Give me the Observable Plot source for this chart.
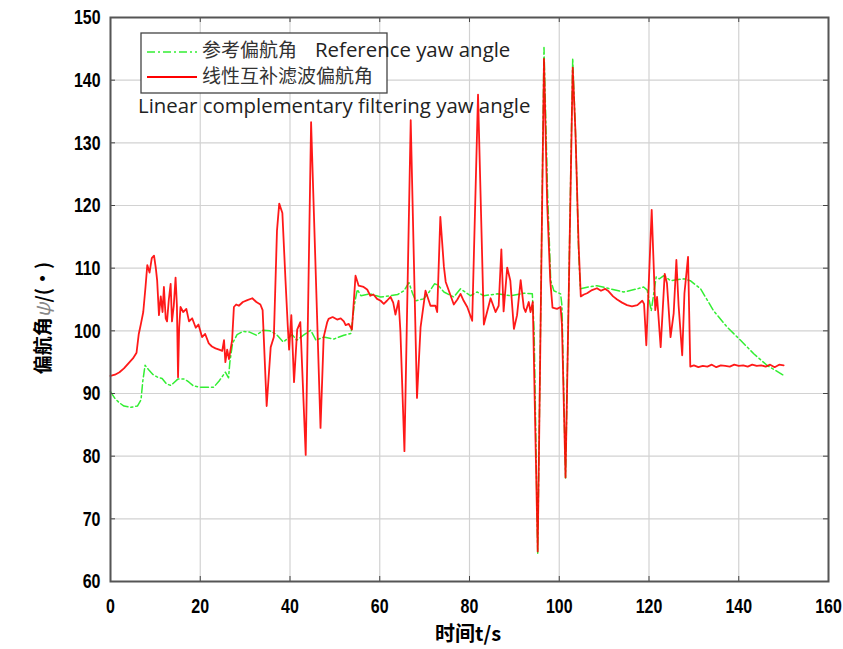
<!DOCTYPE html>
<html>
<head>
<meta charset="utf-8">
<script src="https://cdn.jsdelivr.net/npm/d3@7"></script>
<script src="https://cdn.jsdelivr.net/npm/@observablehq/plot@0.6"></script>
<style>
  html, body { margin: 0; padding: 0; background: #fff; }
  #chart { width: 843px; height: 649px; }
</style>
</head>
<body>
<div id="chart"></div>
<script>
// ---- data ----
const xTicks = [0, 20, 40, 60, 80, 100, 120, 140, 160];
const yTicks = [60, 70, 80, 90, 100, 110, 120, 130, 140, 150];

// 参考偏航角 Reference yaw angle
const refT = [0, 1, 2, 3, 4.5, 6, 6.8, 7.2, 7.7, 8.5, 9.5, 10.5, 11.5, 12.5, 13.5, 15, 16.5, 17.5, 18.5, 20, 21.5, 23, 24.2, 25.6, 26.3, 26.6, 27.2, 28.2, 29.5, 31, 32.5, 34, 35.5, 37, 38.5, 39.5, 40.5, 41.5, 43, 44.6, 45.8, 47.5, 49.8, 52, 53.6, 54.3, 55, 55.8, 57.9, 60.2, 62.4, 64, 65.4, 66.5, 67.3, 68, 69.8, 71, 72.2, 73, 74.3, 76.5, 78, 80.2, 81.7, 83.2, 86.2, 89.1, 92.1, 94, 94.4, 95.2, 96.6, 97.4, 98.1, 98.8, 100.3, 100.6, 101.4, 103, 103.7, 104.3, 104.7, 106.5, 108.4, 111.4, 114.4, 117.4, 118.8, 119.6, 120.5, 121.6, 122.3, 123.3, 124.8, 127.8, 129.2, 131.5, 134.4, 137.4, 140.4, 143.4, 146.3, 150];
const refV = [90.3, 89.2, 88.5, 88, 87.8, 88, 89, 92, 94.5, 93.8, 93, 92.6, 92.4, 91.5, 91.3, 92.3, 92.3, 91.8, 91.2, 91, 91, 91, 92, 93.4, 92.5, 95, 98, 99.4, 99.9, 99.8, 99.3, 100.1, 100, 99.4, 98.2, 98.8, 99.4, 98.5, 99.3, 100.1, 98.5, 99, 98.7, 99.3, 99.6, 104, 106.6, 105.6, 105.9, 105.4, 105.6, 105.8, 106.4, 107.7, 106, 104.8, 105.1, 106.2, 107.5, 107.3, 106.2, 105.4, 106.7, 105.6, 106.2, 105.6, 105.9, 105.6, 106, 105.9, 100, 64.5, 145.2, 122, 108, 106.4, 105.9, 104, 76.5, 143.5, 130, 113, 106.7, 107, 107.2, 106.7, 106.2, 106.7, 107, 106.5, 103.2, 108.6, 108.3, 108.8, 108, 108.3, 108, 106.7, 103.2, 100.6, 98.5, 96.3, 94.5, 92.9];

// 线性互补滤波偏航角 Linear complementary filtering yaw angle
const filtT = [0, 1, 2, 3, 4, 5, 5.8, 6.3, 6.8, 7.3, 7.8, 8.2, 8.7, 9.2, 9.7, 10.1, 10.4, 10.8, 11.2, 11.6, 11.9, 12.3, 12.6, 13.0, 13.4, 13.7, 14.1, 14.5, 14.8, 15.05, 15.3, 15.6, 16.2, 16.9, 17.5, 18.2, 19.0, 19.6, 20.4, 21.1, 21.9, 22.6, 23.4, 24.2, 24.9, 25.3, 25.6, 26.0, 26.4, 27.1, 27.5, 28.0, 28.6, 29.5, 30.5, 31.6, 32.5, 33.4, 33.9, 34.8, 35.7, 36.4, 37.1, 37.6, 38.3, 39.0, 39.5, 39.8, 40.3, 40.9, 41.6, 42.3, 43.5, 44.7, 46.8, 47.5, 48.3, 48.6, 49.5, 50.5, 51.3, 52.0, 52.4, 53.1, 53.8, 54.6, 55.3, 56.4, 57.2, 57.9, 58.6, 59.4, 60.2, 60.9, 61.6, 62.4, 63.0, 63.5, 64.2, 64.6, 65.5, 66.9, 68.3, 69.1, 70.2, 71.3, 72.4, 72.8, 73.5, 74.3, 74.7, 75.4, 76.5, 77.3, 78.0, 78.7, 79.5, 80.6, 81.9, 83.2, 84.7, 85.8, 86.5, 87.1, 87.6, 88.4, 89.1, 89.9, 90.6, 91.4, 92.1, 92.5, 93.2, 93.6, 94.1, 95.2, 96.6, 97.3, 98.0, 98.5, 99.5, 100.3, 100.6, 101.4, 103.0, 103.6, 104.3, 104.8, 105.5, 106.2, 107.3, 108.4, 109.3, 110.2, 111.0, 112.0, 112.9, 114.0, 115.1, 116.2, 117.4, 118.5, 118.9, 119.4, 120.6, 121.4, 121.8, 122.6, 123.5, 124.0, 124.8, 125.5, 126.1, 126.6, 127.4, 127.9, 128.7, 129.2, 130, 131, 132, 133, 134, 135, 136, 137, 138, 139, 140, 141, 142, 143, 144, 145, 146, 147, 148, 149, 150];
const filtV = [92.8, 93.0, 93.4, 94.0, 94.8, 95.6, 96.5, 99.5, 101.2, 103, 107, 110.5, 109.3, 111.6, 112, 110, 108, 102.5, 105.5, 103, 107, 102, 101.5, 105, 107.5, 101.5, 104, 108.5, 104, 92.6, 100.5, 103.8, 103, 103.5, 101.5, 102, 100.5, 101, 99, 99.5, 98, 97.5, 97.2, 97, 96.8, 98.5, 95, 97, 95.5, 98.5, 103.8, 104.2, 104, 104.6, 104.9, 105.2, 104.6, 104.2, 103.3, 88, 97.4, 99, 116, 120.3, 118.8, 108, 100.8, 97, 102.5, 91.8, 100.2, 101.4, 80.2, 133.3, 84.5, 99, 101.4, 101.9, 102.2, 101.8, 102, 101.5, 100.9, 101.1, 100.2, 108.8, 107.2, 107, 106.6, 105.6, 105.8, 105.1, 104.8, 104.3, 104.8, 105.4, 104.5, 102.6, 104.8, 100, 80.8, 133.6, 89.3, 100.6, 106.4, 104, 104, 103, 118.2, 110.2, 107.8, 106.4, 104.2, 105, 105.9, 104.8, 103.8, 101.6, 137.7, 101, 105.2, 103, 104, 113, 103.1, 110.1, 108, 100.3, 102.5, 108.1, 103.7, 103, 104.6, 103, 104.6, 64.8, 143.4, 120.5, 108, 103.7, 103.5, 103.8, 101, 76.6, 142, 132, 114, 105.5, 105.8, 106, 106.5, 106.8, 106.4, 106.7, 106.3, 105.5, 105, 104.5, 104.1, 103.9, 104.1, 104.8, 104.3, 97.7, 119.3, 103.3, 105.4, 97.4, 109.1, 107.6, 99, 102.8, 111.3, 104, 96.1, 106, 111.8, 94.3, 94.5, 94.2, 94.4, 94.3, 94.6, 94.2, 94.5, 94.4, 94.3, 94.6, 94.4, 94.5, 94.3, 94.6, 94.4, 94.5, 94.3, 94.6, 94.2, 94.6, 94.5];

const refData = refT.map((t, i) => ({t, v: refV[i]}));
const filtData = filtT.map((t, i) => ({t, v: filtV[i]}));

const W = 843, H = 649;
const mL = 110, mR = 15, mT = 17, mB = 68;
const innerW = W - mL - mR, innerH = H - mT - mB;
const tick = 5;
const tickFont = '"Liberation Sans", "DejaVu Sans", sans-serif';

const fig = Plot.plot({
  width: W, height: H,
  marginLeft: mL, marginRight: mR, marginTop: mT, marginBottom: mB,
  style: {background: "#fff", color: "#000"},
  x: {domain: [0, 160]},
  y: {domain: [60, 150]},
  marks: [
    Plot.gridX(xTicks, {stroke: "#d2d2d2", strokeOpacity: 1, strokeWidth: 1.2}),
    Plot.gridY(yTicks, {stroke: "#d2d2d2", strokeOpacity: 1, strokeWidth: 1.2}),
    Plot.line(refData, {x: "t", y: "v", stroke: "#33ee33", strokeWidth: 1.5, strokeDasharray: "8,3,2,3"}),
    Plot.line(filtData, {x: "t", y: "v", stroke: "#ff0000", strokeWidth: 1.8, strokeOpacity: 0.9}),
    Plot.ruleX(xTicks, {stroke: "#444", insetTop: innerH - tick}),
    Plot.ruleX(xTicks, {stroke: "#444", insetBottom: innerH - tick}),
    Plot.ruleY(yTicks, {stroke: "#444", insetRight: innerW - tick}),
    Plot.ruleY(yTicks, {stroke: "#444", insetLeft: innerW - tick}),
    Plot.frame({stroke: "#555", strokeWidth: 2}),
    Plot.axisX(xTicks, {tickSize: 0, tickPadding: 17, fontSize: 21, fontWeight: "bold", fontFamily: tickFont, label: null}),
    Plot.axisY(yTicks, {tickSize: 0, tickPadding: 10, fontSize: 21, fontWeight: "bold", fontFamily: tickFont, label: null})
  ]
});

document.getElementById("chart").appendChild(fig);

const svg = d3.select(fig);

// condense the bold tick labels like the reference's narrow face
svg.selectAll('g[aria-label="x-axis tick label"] text, g[aria-label="y-axis tick label"] text').each(function() {
  const w = this.getComputedTextLength();
  this.setAttribute("textLength", (w * 0.76).toFixed(1));
  this.setAttribute("lengthAdjust", "spacingAndGlyphs");
});

const cjk = '"Noto Sans CJK SC", "Noto Sans", sans-serif';

// axis titles
svg.append("text")
  .attr("x", 468).attr("y", 636)
  .attr("text-anchor", "middle").attr("dominant-baseline", "middle")
  .attr("font-family", cjk).attr("font-size", 20).attr("font-weight", "bold")
  .attr("fill", "#000")
  .text("时间t/s");

const yl = svg.append("text")
  .attr("transform", "translate(45,318) rotate(-90)")
  .attr("text-anchor", "middle").attr("dominant-baseline", "middle")
  .attr("font-family", cjk).attr("font-size", 19).attr("font-weight", "bold")
  .attr("fill", "#000");
yl.append("tspan").text("偏航角");
yl.append("tspan").attr("fill", "#888").attr("font-weight", "normal").attr("font-style", "italic").text("ψ");
yl.append("tspan").text("/(•)");

// legend
const lg = svg.append("g").attr("text-anchor", "start");
lg.append("rect")
  .attr("x", 141).attr("y", 33).attr("width", 246).attr("height", 60)
  .attr("fill", "#fff").attr("stroke", "#444").attr("stroke-width", 1.3);
lg.append("line")
  .attr("x1", 147).attr("x2", 197).attr("y1", 52).attr("y2", 52)
  .attr("stroke", "#33ee33").attr("stroke-width", 1.5).attr("stroke-dasharray", "8,3,2,3");
lg.append("line")
  .attr("x1", 147).attr("x2", 197).attr("y1", 77).attr("y2", 77)
  .attr("stroke", "#ff0000").attr("stroke-width", 1.8);
lg.append("text")
  .attr("x", 202).attr("y", 52).attr("dominant-baseline", "middle").attr("text-anchor", "start")
  .attr("font-family", cjk).attr("font-size", 19).attr("fill", "#333")
  .text("参考偏航角");
lg.append("text")
  .attr("x", 315).attr("y", 52).attr("dominant-baseline", "middle").attr("text-anchor", "start")
  .attr("font-family", '"Open Sans", sans-serif').attr("font-size", 20.4).attr("fill", "#222")
  .text("Reference yaw angle");
lg.append("text")
  .attr("x", 202).attr("y", 78).attr("dominant-baseline", "middle").attr("text-anchor", "start")
  .attr("font-family", cjk).attr("font-size", 19).attr("fill", "#333")
  .text("线性互补滤波偏航角");
lg.append("text")
  .attr("x", 138).attr("y", 108).attr("dominant-baseline", "middle").attr("text-anchor", "start")
  .attr("font-family", '"Open Sans", sans-serif').attr("font-size", 20.4).attr("fill", "#222")
  .text("Linear complementary filtering yaw angle");
</script>
</body>
</html>
